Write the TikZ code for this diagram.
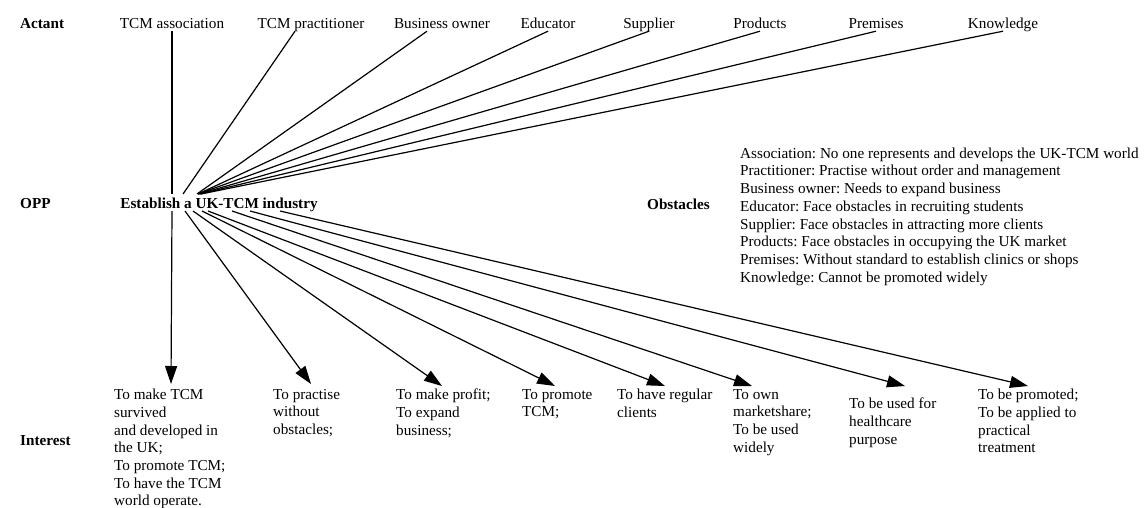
\documentclass[tikz,border=0pt]{standalone}
\usepackage{fontspec}
\setmainfont{Liberation Serif}
\usetikzlibrary{arrows.meta}
\frenchspacing
\begin{document}
\begin{tikzpicture}[x=1pt,y=-1pt,
  base font/.style={font=\fontsize{15.2}{17.7}\selectfont},
  lbl/.style={base font, inner sep=0pt, text height=10.5pt, text depth=3pt, anchor=base},
  hd/.style={lbl, font=\fontsize{15.2}{17.7}\selectfont\bfseries},
  txt/.style={base font, inner sep=0pt, align=left, anchor=north west},
  link/.style={line width=1.2pt},
  arr/.style={link, -{Triangle[length=18pt,width=12pt]}}
]
\useasboundingbox (0,0) rectangle (1147,507);

% row headings
\node[hd, anchor=base west] (actant)   at (20,28)  {Actant};
\node[hd, anchor=base west] (opp)      at (20,208) {OPP};
\node[hd, anchor=base west] (interest) at (20,445) {Interest};

% actants
\node[lbl] (assoc) at (172,28)  {TCM association};
\node[lbl] (prac)  at (311,28)  {TCM practitioner};
\node[lbl] (bus)   at (442,28)  {Business owner};
\node[lbl] (edu)   at (548,28)  {Educator};
\node[lbl] (sup)   at (649,28)  {Supplier};
\node[lbl] (prod)  at (760,28)  {Products};
\node[lbl] (prem)  at (876,28)  {Premises};
\node[lbl] (know)  at (1003,28) {Knowledge};

% obligatory passage point and obstacles
\node[hd] (estab) at (219,208) {Establish a UK-TCM industry};
\node[hd, anchor=base west] (obst) at (647,209) {Obstacles};
\node[txt] (obslist) at (740,147.5) {Association: No one represents and develops the UK-TCM world\\
Practitioner: Practise without order and management\\
Business owner: Needs to expand business\\
Educator: Face obstacles in recruiting students\\
Supplier: Face obstacles in attracting more clients\\
Products: Face obstacles in occupying the UK market\\
Premises: Without standard to establish clinics or shops\\
Knowledge: Cannot be promoted widely};

% interests
\node[txt] (i-assoc) at (114,389) {To make TCM\\survived\\and developed in\\the UK;\\To promote TCM;\\To have the TCM\\world operate.};
\node[txt] (i-prac)  at (273,389) {To practise\\without\\obstacles;};
\node[txt] (i-bus)   at (396,389) {To make profit;\\To expand\\business;};
\node[txt] (i-edu)   at (522,389) {To promote\\TCM;};
\node[txt] (i-sup)   at (617,389) {To have regular\\clients};
\node[txt] (i-prod)  at (733,389) {To own\\marketshare;\\To be used\\widely};
\node[txt] (i-prem)  at (849,398) {To be used for\\healthcare\\purpose};
\node[txt] (i-know)  at (978,389) {To be promoted;\\To be applied to\\practical\\treatment};

% points where the links meet the OPP
\coordinate (in-assoc) at (172,194);
\coordinate (in-prac)  at (183,194);
\coordinate (in-bus)   at (197,194);
\coordinate (in-edu)   at (198,194);
\coordinate (in-sup)   at (198,194);
\coordinate (in-prod)  at (199,194);
\coordinate (in-prem)  at (200,194);
\coordinate (in-know)  at (201,194);

\coordinate (out-assoc) at (172,211);
\coordinate (out-prac)  at (185,211);
\coordinate (out-bus)   at (193,211);
\coordinate (out-edu)   at (202,211);
\coordinate (out-sup)   at (208,211);
\coordinate (out-prod)  at (232,211);
\coordinate (out-prem)  at (250,211);
\coordinate (out-know)  at (280,211);

% arrow tips above the interests
\coordinate (tip-assoc) at (171,384);
\coordinate (tip-prac)  at (311,384);
\coordinate (tip-bus)   at (442,386);
\coordinate (tip-edu)   at (555,386);
\coordinate (tip-sup)   at (665,386);
\coordinate (tip-prod)  at (752,386);
\coordinate (tip-prem)  at (905,386);
\coordinate (tip-know)  at (1028,386);

% actants enrolled into the OPP
\draw[link] (assoc.south) -- (in-assoc);
\draw[link] ([xshift=-16pt]prac.south) -- (in-prac);
\draw[link] ([xshift=-15pt]bus.south) -- (in-bus);
\draw[link] (edu.south)  -- (in-edu);
\draw[link] (sup.south)  -- (in-sup);
\draw[link] (prod.south) -- (in-prod);
\draw[link] (prem.south) -- (in-prem);
\draw[link] (know.south) -- (in-know);

% OPP leading to each interest
\draw[arr] (out-assoc) -- (tip-assoc);
\draw[arr] (out-prac)  -- (tip-prac);
\draw[arr] (out-bus)   -- (tip-bus);
\draw[arr] (out-edu)   -- (tip-edu);
\draw[arr] (out-sup)   -- (tip-sup);
\draw[arr] (out-prod)  -- (tip-prod);
\draw[arr] (out-prem)  -- (tip-prem);
\draw[arr] (out-know)  -- (tip-know);
\end{tikzpicture}
\end{document}
